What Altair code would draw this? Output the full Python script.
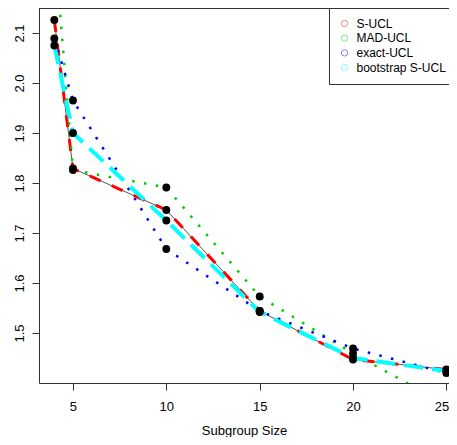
import altair as alt
import pandas as pd

# ---- data ----
x_vals = [4, 5, 10, 15, 20, 25]
s_ucl = [2.126, 1.829, 1.746, 1.544, 1.447, 1.427]
mad_ucl = [2.28, 1.826, 1.791, 1.573, 1.459, 1.357]
exact_ucl = [2.089, 1.965, 1.668, 1.544, 1.469, 1.420]
boot_ucl = [2.075, 1.900, 1.725, 1.542, 1.450, 1.424]
series_names = ["S-UCL", "MAD-UCL", "exact-UCL", "bootstrap S-UCL"]
x_ticks = [5, 10, 15, 20, 25]
y_ticks = [1.5, 1.6, 1.7, 1.8, 1.9, 2.0, 2.1]

rows = []
for name, vals in zip(series_names, [s_ucl, mad_ucl, exact_ucl, boot_ucl]):
    for i, (x, y) in enumerate(zip(x_vals, vals)):
        rows.append({"series": name, "n": x, "ucl": y, "order": i})
df = pd.DataFrame(rows)

FONT = "Liberation Sans"
BOX = "#333333"
W, H = 410, 375
colors = ["#ff0000", "#00cd00", "#0000ff", "#00ffff"]
styles = {
    "S-UCL": dict(color="#ff0000", strokeDash=[12, 12], strokeWidth=3),
    "MAD-UCL": dict(color="#00cd00", strokeDash=[2.5, 9.5], strokeWidth=2.5),
    "exact-UCL": dict(color="#0000ff", strokeDash=[2.5, 9.5], strokeWidth=2.5),
    "bootstrap S-UCL": dict(color="#00ffff", strokeDash=[19, 9], strokeWidth=4),
}

x_enc = alt.X(
    "n:Q",
    scale=alt.Scale(domain=[3.18, 25.14], zero=False, nice=False),
    axis=alt.Axis(
        values=x_ticks, title="Subgroup Size", labelPadding=10,
        labelOffset={"condition": {"test": "datum.value == 25", "value": -5}, "value": 0},
        titleY=51, titleBaseline="alphabetic"),
)
y_enc = alt.Y(
    "ucl:Q",
    scale=alt.Scale(domain=[1.40, 2.15], zero=False, nice=False),
    axis=alt.Axis(values=y_ticks, title=None, labelAngle=270, labelAlign="center",
                  labelBaseline="alphabetic", labelPadding=9, format=".1f"),
)

base = alt.Chart(df).encode(x=x_enc, y=y_enc, order="order:Q")

gray = base.transform_filter(alt.datum.series == "S-UCL").mark_line(
    color="#555555", strokeWidth=1, clip=True)

layers = [gray]
for name in series_names:
    st = styles[name]
    layers.append(
        base.transform_filter(alt.datum.series == name).mark_line(clip=True, **st)
    )

pts = base.mark_circle(color="black", size=62, opacity=1, clip=True)

# top edge of the plot box (the right edge lies off-page in the reference)
top_edge = alt.Chart(pd.DataFrame({"k": [0]})).mark_rule(
    color=BOX, strokeWidth=1).encode(
    x=alt.value(0), x2=alt.value(W), y=alt.value(0.5))

legend_layer = base.mark_point(filled=False, opacity=0, clip=True).encode(
    color=alt.Color(
        "series:N",
        scale=alt.Scale(domain=series_names, range=colors),
        legend=alt.Legend(
            title=None, orient="none", legendX=290, legendY=0,
            symbolType="circle", symbolSize=40, symbolStrokeWidth=1,
            symbolOpacity=0.5, symbolFillColor="transparent",
            labelFont=FONT, labelFontSize=12, labelColor="#000",
            labelOffset=6, rowPadding=2.7, padding=9.5,
            strokeColor=BOX, fillColor="white", cornerRadius=0,
        ),
    )
)

chart = alt.layer(*layers, pts, top_edge, legend_layer).properties(
    width=W, height=H,
    autosize=alt.AutoSizeParams(type="none"),
    padding={"left": 31, "top": 0, "right": 0, "bottom": 54},
).configure_view(stroke="transparent").configure_axis(
    grid=False, domain=True, domainColor=BOX, domainWidth=1,
    tickColor=BOX, tickSize=7, tickWidth=1,
    labelColor="#000", labelFont=FONT, labelFontSize=13,
    titleFont=FONT, titleFontSize=13, titleFontWeight="normal", titleColor="#000",
)

chart.save("out.html", embed_options={"renderer": "svg", "actions": False})
